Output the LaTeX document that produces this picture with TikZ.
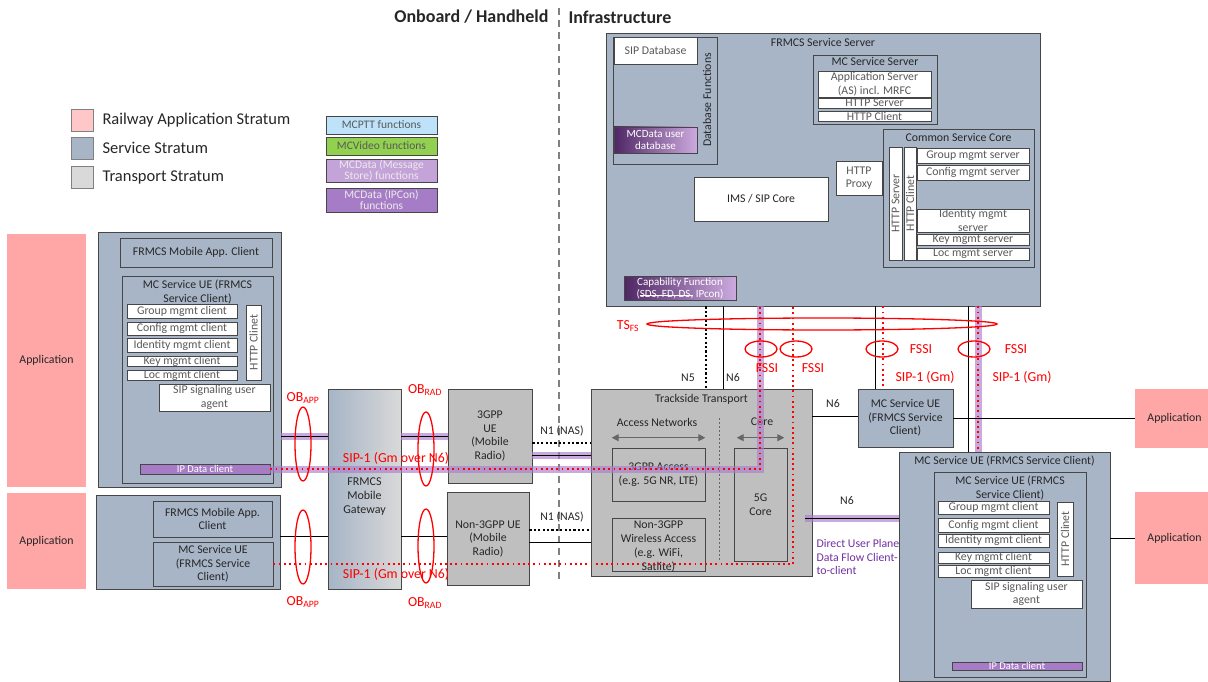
\documentclass[tikz,border=0pt]{standalone}
\usepackage{fontspec}
\setmainfont{Carlito}
\usetikzlibrary{fit,arrows.meta}

\definecolor{svc}{RGB}{168,181,199}
\definecolor{trp}{RGB}{191,191,191}
\definecolor{trpL}{RGB}{217,217,217}
\definecolor{appc}{RGB}{255,166,166}
\definecolor{appL}{RGB}{255,199,199}
\definecolor{edgec}{RGB}{70,70,70}
\definecolor{txtg}{RGB}{89,89,89}
\definecolor{dark}{RGB}{38,38,38}
\definecolor{pttc}{RGB}{189,226,250}
\definecolor{vidc}{RGB}{146,208,80}
\definecolor{msgc}{RGB}{196,163,216}
\definecolor{ipcc}{RGB}{166,124,198}
\definecolor{pdark}{RGB}{78,38,100}
\definecolor{plight}{RGB}{204,170,222}
\definecolor{glowc}{RGB}{170,125,205}
\definecolor{redl}{RGB}{255,0,0}
\definecolor{purt}{RGB}{112,48,160}
\definecolor{gwl}{RGB}{166,180,198}
\definecolor{gwr}{RGB}{217,217,217}

\newcommand{\fsz}[2]{\fontsize{#1}{#2}\selectfont}
% box spanning two corners (pixel coordinates), text centred on it
\newcommand{\boxfit}[6][]{%
  \node[#3, fit={(#4) (#5)}] (#2) {};
  \node[align=center, inner sep=0pt, #1] (#2T) at (#2) {#6};}
% struck-out text
\newcommand{\strk}[1]{\setbox0\hbox{#1}\rlap{\rule[0.3ex]{\wd0}{0.5pt}}#1}

\begin{document}
\begin{tikzpicture}[x=1pt, y=-1pt, font=\fsz{11.8}{13.5}, text=dark,
  bx/.style={draw=edgec, line width=0.6pt, inner sep=0pt},
  svcbox/.style={bx, fill=svc},
  trpbox/.style={bx, fill=trp},
  appbox/.style={fill=appc, inner sep=0pt},
  wbox/.style={bx, fill=white},
  wtx/.style={text=txtg},
  ipbox/.style={bx, fill=ipcc},
  iptx/.style={text=white, font=\fsz{10.5}{12}},
  grad/.style={bx, left color=pdark, right color=plight},
  gradtx/.style={text=white, font=\fsz{11}{12}},
  fntx/.style={font=\fsz{11.5}{11.5}},
  lnk/.style={line width=0.8pt, black},
  glow/.style={line width=7pt, glowc, opacity=0.65},
  sipdot/.style={redl, line width=1.8pt, dash pattern=on 1.8pt off 3.4pt},
  nasdot/.style={black, line width=2.2pt, dash pattern=on 2.2pt off 2.2pt},
  ring/.style={redl, line width=1.3pt},
  redlab/.style={text=redl, font=\fsz{13.8}{15}},
  tiparr/.style={{Triangle[length=7pt,width=7pt]}-{Triangle[length=7pt,width=7pt]}, gray!80!black, line width=1.2pt}
]
\useasboundingbox (0,0) rectangle (1208,682);

% headings and split line
\node[anchor=east, font=\fsz{18}{20}\bfseries] (hOnb) at (552,17) {Onboard / Handheld};
\node[anchor=west, font=\fsz{18}{20}\bfseries] (hInf) at (565,17) {Infrastructure};
\draw[gray, line width=1.2pt, dash pattern=on 7pt off 5pt] (559,8) -- (559,580);

% legend
\foreach \c/\t/\y [count=\i] in {appL/Railway Application Stratum/120, svc/Service Stratum/148, trpL/Transport Stratum/177} {
  \node[draw=gray, line width=0.6pt, fill=\c, minimum width=22pt, minimum height=22pt, inner sep=0pt] (lgSq\i) at (82,\y) {};
  \node[anchor=west, font=\fsz{16.5}{18}] (lgTx\i) at (99,\y) {\t};
}
\boxfit[fntx, text=txtg]{fnPtt}{bx, fill=pttc}{326,116}{437,134}{MCPTT functions}
\boxfit[fntx, text=txtg]{fnVid}{bx, fill=vidc}{326,137}{437,155}{MCVideo functions}
\boxfit[fntx, text=white!92!black]{fnMsg}{bx, fill=msgc}{326,159}{437,182}{MCData (Message\\Store) functions}
\boxfit[fntx, text=white!92!black]{fnIpc}{bx, fill=ipcc}{326,188}{437,212}{MCData (IPCon)\\functions}

% FRMCS service server
\boxfit{srv}{svcbox}{606,33}{1040,306}{}
\node[anchor=north] (srvT) at ([yshift=-2pt]srv.north) {FRMCS Service Server};
\boxfit{dbf}{svcbox}{613,37}{717,164}{}
\boxfit[wtx]{sipDb}{wbox}{614,37}{697,64}{SIP Database}
\boxfit[gradtx]{mcDb}{grad}{614,127}{697,153}{MCData user\\database}
\node[rotate=90] (dbfT) at (707,100) {Database Functions};
\boxfit{imsCore}{wbox}{694,177}{828,221}{IMS / SIP Core}
\boxfit[gradtx]{capF}{grad}{624,276}{736,300}{Capability Function\\(\strk{SDS, FD, DS,} IPcon)}

\boxfit{mcss}{svcbox}{813,55}{937,124}{}
\node[anchor=north] (mcssT) at ([yshift=1pt]mcss.north) {MC Service Server};
\boxfit[wtx]{asrv}{wbox}{818,71}{931,97}{Application Server\\(AS) incl. MRFC}
\boxfit[wtx]{mHs}{wbox}{818,98}{931,108}{HTTP Server}
\boxfit[wtx]{mHc}{wbox}{818,111}{931,121}{HTTP Client}
\boxfit[wtx]{proxy}{wbox}{836,161}{882,195}{HTTP\\Proxy}

\boxfit{csc}{svcbox}{883,129}{1034,267}{}
\node[anchor=north] (cscT) at ([yshift=-1pt]csc.north) {Common Service Core};
\boxfit{cHs}{wbox}{889,147}{902,260}{}
\node[rotate=90, text=txtg] (cHsR) at (cHs) {HTTP Server};
\boxfit{cHc}{wbox}{904,147}{916,260}{}
\node[rotate=90, text=txtg] (cHcR) at (cHc) {HTTP Clinet};
\boxfit[wtx]{gms}{wbox}{917,148}{1029,163}{Group mgmt server}
\boxfit[wtx]{cms}{wbox}{917,165}{1029,180}{Config mgmt server}
\boxfit[wtx]{idms}{wbox}{917,209}{1029,232}{Identity mgmt\\server}
\boxfit[wtx]{kms}{wbox}{917,234}{1029,245}{Key mgmt server}
\boxfit[wtx]{lms}{wbox}{917,248}{1029,260}{Loc mgmt server}

% onboard UE (top)
\boxfit{appA}{appbox}{7,234}{86,487}{Application}
\boxfit{ueA}{svcbox}{98,232}{281,487}{}
\boxfit{mapA}{svcbox}{120,238}{272,267}{FRMCS Mobile App. Client}
\boxfit{mcA}{svcbox}{122,276}{273,483}{}
\node[anchor=north, align=center] (mcAt) at ([yshift=-1pt]mcA.north) {MC Service UE (FRMCS\\Service Client)};
\foreach \n/\t/\ya/\yb in {grpA/Group mgmt client/304/318, cfgA/Config mgmt client/322/335,
    idA/Identity mgmt client/338/352, keyA/Key mgmt client/356/366, locA/Loc mgmt client/370/380}
  \boxfit[wtx]{\n}{wbox}{127,\ya}{237,\yb}{\t};
\boxfit{httpA}{wbox}{246,305}{261,380}{}
\node[rotate=90, text=txtg] (httpAR) at (httpA) {HTTP Clinet};
\boxfit[wtx]{sipA}{wbox}{159,384}{270,411}{SIP signaling user\\agent}
\boxfit[iptx]{ipA}{ipbox}{140,464}{270,474}{IP Data client}

% onboard UE (bottom)
\boxfit{appB}{appbox}{7,493}{86,589}{Application}
\boxfit{ueB}{svcbox}{96,495}{280,589}{}
\boxfit{mapB}{svcbox}{153,501}{272,537}{FRMCS Mobile App.\\Client}
\boxfit{mcB}{svcbox}{153,542}{273,586}{MC Service UE\\(FRMCS Service\\Client)}

% gateway and radios
\boxfit[yshift=-8pt, font=\fsz{12}{14}]{gw}{bx, left color=gwl, right color=gwr}{328,389}{401,589}{FRMCS\\Mobile\\Gateway}
\boxfit{ue3}{trpbox}{448,389}{532,483}{3GPP\\UE\\(Mobile\\Radio)}
\boxfit{uen}{trpbox}{447,492}{529,585}{Non-3GPP UE\\(Mobile\\Radio)}

% trackside transport
\boxfit{tt}{trpbox}{591,389}{812,576}{}
\node[anchor=north] (ttt) at ([yshift=-2pt]tt.north) {Trackside Transport};
\node (accH) at (657,422) {Access Networks};
\node (coreH) at (762,422) {Core};
\draw[gray!80!black, line width=0.5pt, dash pattern=on 2pt off 2pt] (719,418) -- (719,562);
\boxfit{acc3}{trpbox}{612,448}{705,501}{3GPP Access\\(e.g. 5G NR, LTE)}
\boxfit[font=\fsz{11.8}{13.8}, yshift=-2pt]{accN}{trpbox}{612,518}{705,571}{Non-3GPP\\Wireless Access\\(e.g. WiFi,\\Satlite)}
\boxfit{core}{trpbox}{734,448}{787,561}{5G\\Core}
\draw[tiparr] ([yshift=10pt]acc3.north west) -- ([yshift=10pt]acc3.north east);
\draw[tiparr] ([xshift=3pt,yshift=10pt]core.north west) -- ([xshift=-3pt,yshift=10pt]core.north east);

% infrastructure UEs
\boxfit{mcC}{svcbox}{858,389}{953,447}{MC Service UE\\(FRMCS Service\\Client)}
\boxfit[xshift=3pt]{appC}{appbox}{1135,389}{1208,448}{Application}
\boxfit[xshift=3pt]{appD}{appbox}{1135,492}{1208,584}{Application}
\boxfit{ueD}{svcbox}{899,452}{1110,681}{}
\node[anchor=north] (ueDt) at ([yshift=-1pt]ueD.north) {MC Service UE (FRMCS Service Client)};
\boxfit{mcD}{svcbox}{934,472}{1086,677}{}
\node[anchor=north, align=center] (mcDt) at ([yshift=-1pt]mcD.north) {MC Service UE (FRMCS\\Service Client)};
\foreach \n/\t/\ya/\yb in {grpD/Group mgmt client/501/514, cfgD/Config mgmt client/518/532,
    idD/Identity mgmt client/534/547, keyD/Key mgmt client/552/563, locD/Loc mgmt client/565/577}
  \boxfit[wtx]{\n}{wbox}{938,\ya}{1049,\yb}{\t};
\boxfit{httpD}{wbox}{1057,502}{1073,576}{}
\node[rotate=90, text=txtg] (httpDR) at (httpD) {HTTP Clinet};
\boxfit[wtx]{sipD}{wbox}{971,580}{1082,608}{SIP signaling user\\agent}
\boxfit[iptx]{ipD}{ipbox}{952,662}{1082,670}{IP Data client}

% bend points of the SIP-1 paths
\coordinate (bendA) at (760,469);
\coordinate (bendB) at (793,564);
\coordinate (n6L) at (805,518);

% user plane glow
\draw[glow] (ueA.east |- 0,436) -- (gw.west |- 0,436);
\draw[glow] (gw.east |- 0,436) -- (ue3.west |- 0,436);
\draw[glow] (ue3.east |- 0,455) -- (tt.west |- 0,455);
\draw[glow] (ipA.east) -- (bendA) -- (bendA |- srv.south);
\draw[glow] (978,0 |- srv.south) -- (978,0 |- ueD.north);
\draw[glow] (n6L) -- (ueD.west |- n6L);

% links
\draw[lnk] (ueA.east |- 0,436) -- (gw.west |- 0,436);
\draw[lnk] (gw.east |- 0,436) -- (ue3.west |- 0,436);
\draw[lnk] (ue3.east |- 0,455) -- (tt.west |- 0,455);
\draw[lnk] (ueB.east |- 0,536) -- (gw.west |- 0,536);
\draw[lnk] (gw.east |- 0,536) -- (uen.west |- 0,536);
\draw[lnk] (uen.east |- 0,542) -- (tt.west |- 0,542);
\draw[nasdot] (ue3.east |- 0,443) -- (tt.west |- 0,443);
\draw[nasdot] (uen.east |- 0,530) -- (tt.west |- 0,530);
\node (n1a) at (562,431) {N1 (NAS)};
\node (n1b) at (562,517) {N1 (NAS)};

\draw[nasdot] (706,0 |- srv.south) -- (706,0 |- tt.north);
\draw[lnk] (723,0 |- srv.south) -- (723,0 |- tt.north);
\node (n5) at (688,378) {N5};
\node (n6a) at (733,378) {N6};
\draw[lnk] (875,0 |- srv.south) -- (875,0 |- mcC.north);
\draw[lnk] (968,0 |- srv.south) -- (968,0 |- ueD.north);
\draw[lnk] (tt.east |- 0,416) -- (mcC.west |- 0,416);
\node (n6b) at (833,404) {N6};
\draw[lnk] (n6L) -- (ueD.west |- n6L);
\node (n6c) at (847,501) {N6};
\draw[lnk] (mcC.east) -- (appC.west |- mcC.east);
\draw[lnk] (ueD.east |- appD.west) -- (appD.west);
\node[anchor=north west, align=left, text=purt] (dupT) at (813,536) {Direct User Plane\\Data Flow Client-\\to-client};

% SIP-1 signalling
\draw[sipdot] (ipA.east) -- (bendA) -- (bendA |- srv.south);
\draw[sipdot] (mcB.east) -- (bendB) -- (bendB |- srv.south);
\draw[sipdot] (883,0 |- srv.south) -- (883,0 |- mcC.north);
\draw[sipdot] (978,0 |- srv.south) -- (978,0 |- ueD.north);

% reference points
\draw[ring] (822,324) ellipse [x radius=175pt, y radius=6pt];
\node[redlab] (tsfs) at (628,326) {TS\textsubscript{FS}};
\foreach \x [count=\i] in {761,796,882,974}
  \draw[ring] (\x,349) ellipse [x radius=16pt, y radius=8pt];
\node[redlab] (fs1) at (767,368) {FSSI};
\node[redlab] (fs2) at (813,368) {FSSI};
\node[redlab] (fs3) at (921,349) {FSSI};
\node[redlab] (fs4) at (1016,349) {FSSI};
\node[redlab] (sipG1) at (925,377) {SIP-1 (Gm)};
\node[redlab] (sipG2) at (1022,377) {SIP-1 (Gm)};
\node[redlab] (sipN1) at (396,458) {SIP-1 (Gm over N6)};
\node[redlab] (sipN2) at (396,574) {SIP-1 (Gm over N6)};
\foreach \x/\y in {303/444, 426/449, 303/547, 426/546}
  \draw[ring] (\x,\y) ellipse [x radius=8pt, y radius=37pt];
\node[redlab] (obA1) at (303,398) {OB\textsubscript{APP}};
\node[redlab] (obR1) at (425,390) {OB\textsubscript{RAD}};
\node[redlab] (obA2) at (303,602) {OB\textsubscript{APP}};
\node[redlab] (obR2) at (425,603) {OB\textsubscript{RAD}};
\end{tikzpicture}
\end{document}
